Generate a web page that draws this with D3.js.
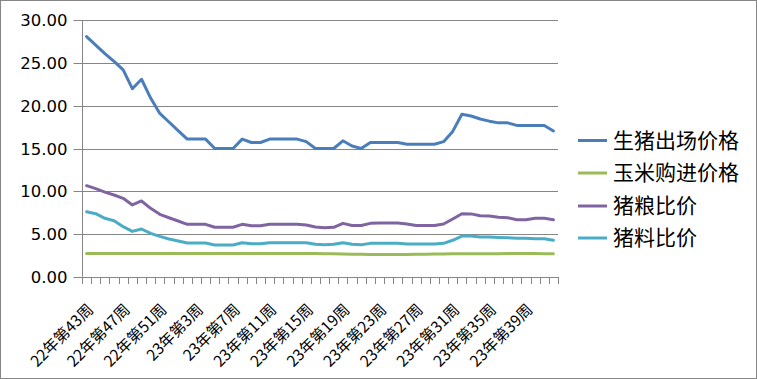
<!DOCTYPE html>
<html><head><meta charset="utf-8">
<script src="https://cdn.jsdelivr.net/npm/d3@7"></script>
<style>
html,body{margin:0;padding:0;background:#fff;}
svg{display:block;}
</style></head>
<body>
<svg id="chart" width="757" height="379"></svg>
<script>
const categories = ["22年第43周","22年第44周","22年第45周","22年第46周","22年第47周","22年第48周","22年第49周","22年第50周","22年第51周","22年第52周",
"23年第1周","23年第2周","23年第3周","23年第4周","23年第5周","23年第6周","23年第7周","23年第8周","23年第9周","23年第10周",
"23年第11周","23年第12周","23年第13周","23年第14周","23年第15周","23年第16周","23年第17周","23年第18周","23年第19周","23年第20周",
"23年第21周","23年第22周","23年第23周","23年第24周","23年第25周","23年第26周","23年第27周","23年第28周","23年第29周","23年第30周",
"23年第31周","23年第32周","23年第33周","23年第34周","23年第35周","23年第36周","23年第37周","23年第38周","23年第39周","23年第40周",
"23年第41周","23年第42周"];
const hogPrice = [28.1,27.1,26.1,25.2,24.2,22.0,23.1,20.9,19.1,18.1,17.1,16.1,16.1,16.1,15.0,15.0,15.0,16.1,15.7,15.7,
16.1,16.1,16.1,16.1,15.8,15.0,15.0,15.0,15.9,15.3,15.0,15.7,15.7,15.7,15.7,15.5,15.5,15.5,15.5,15.8,
17.0,19.0,18.8,18.45,18.2,18.0,18.0,17.7,17.7,17.7,17.7,17.05];
const cornPrice = [2.70,2.70,2.70,2.70,2.70,2.70,2.70,2.70,2.70,2.70,2.70,2.70,2.70,2.70,2.70,2.70,2.70,2.70,2.70,2.70,
2.70,2.70,2.70,2.70,2.70,2.70,2.69,2.68,2.66,2.63,2.62,2.61,2.60,2.60,2.60,2.61,2.62,2.64,2.66,2.67,
2.68,2.68,2.68,2.68,2.68,2.68,2.70,2.72,2.72,2.70,2.68,2.68];
const hogGrainRatio = [10.65,10.3,9.9,9.56,9.17,8.39,8.86,8.0,7.3,6.9,6.52,6.13,6.13,6.13,5.78,5.78,5.78,6.13,5.97,5.97,
6.13,6.13,6.13,6.13,6.05,5.82,5.74,5.78,6.24,6.0,6.0,6.24,6.28,6.28,6.28,6.16,6.0,6.0,6.0,6.16,
6.75,7.37,7.35,7.14,7.1,6.95,6.9,6.67,6.67,6.83,6.83,6.67];
const hogFeedRatio = [7.6,7.37,6.83,6.55,5.85,5.3,5.58,5.07,4.72,4.41,4.17,3.94,3.94,3.94,3.71,3.71,3.71,3.98,3.86,3.86,
3.98,3.98,3.98,3.98,3.98,3.8,3.75,3.79,3.98,3.79,3.75,3.9,3.9,3.9,3.9,3.83,3.83,3.83,3.83,3.9,
4.26,4.76,4.76,4.64,4.64,4.6,4.57,4.49,4.49,4.45,4.45,4.26];
const seriesNames = ["生猪出场价格","玉米购进价格","猪粮比价","猪料比价"];
const seriesColors = ["#4A7EBB","#9BBB59","#8064A2","#4BACC6"];
const yTicks = [0,5,10,15,20,25,30];
const labelEvery = 4;

const seriesData = [hogPrice, cornPrice, hogGrainRatio, hogFeedRatio];
const svg = d3.select("#chart");
const W = 757, H = 379;
const pL = 82, pR = 558, pT = 20.3, pB = 276.7;
const grid = "#868686";

svg.append("rect").attr("x",0.5).attr("y",0.5).attr("width",W-1).attr("height",H-1)
  .attr("fill","#fff").attr("stroke",grid).attr("stroke-width",1);

const x = d3.scaleBand().domain(categories).range([pL,pR]).padding(0);
const y = d3.scaleLinear().domain([0,30]).range([pB,pT]);

// gridlines
svg.append("g").selectAll("line").data(yTicks.filter(d=>d>0)).join("line")
  .attr("x1",pL).attr("x2",pR)
  .attr("y1",d=>Math.round(y(d))+0.5).attr("y2",d=>Math.round(y(d))+0.5)
  .attr("stroke",grid).attr("stroke-width",1);

// y axis
const yAxis = d3.axisLeft(y).tickValues(yTicks).tickFormat(d3.format(".2f")).tickSize(9).tickPadding(6);
const gy = svg.append("g").attr("transform",`translate(${pL+0.5},0)`).call(yAxis);
gy.select(".domain").attr("stroke",grid).attr("d",`M0,${pT}V${pB}`);
gy.selectAll(".tick line").attr("stroke",grid);
gy.selectAll(".tick").attr("transform",d=>`translate(0,${Math.round(y(d))+0.5})`);
gy.selectAll("text").attr("font-family","DejaVu Sans, Verdana, sans-serif").attr("font-size","16.5px").attr("fill","#000");

// x axis baseline and ticks at category boundaries
const gx = svg.append("g");
gx.append("line").attr("x1",pL).attr("x2",pR)
  .attr("y1",Math.round(pB)+0.5).attr("y2",Math.round(pB)+0.5).attr("stroke",grid);
const bounds = categories.map(c=>x(c)).concat([pR]);
gx.selectAll("line.tk").data(bounds).join("line").attr("class","tk")
  .attr("x1",d=>Math.round(d)+0.5).attr("x2",d=>Math.round(d)+0.5)
  .attr("y1",Math.round(pB)).attr("y2",Math.round(pB)+7).attr("stroke",grid);

// x labels
gx.selectAll("text").data(categories.filter((c,i)=>i%labelEvery===0)).join("text")
  .attr("transform",d=>`translate(${x(d)+x.bandwidth()/2+4},${pB+30}) rotate(-45)`)
  .attr("text-anchor","end").attr("dy","0.35em")
  .attr("font-family","'Noto Sans CJK SC', sans-serif").attr("font-size","15.5px").attr("fill","#000")
  .text(d=>d);

// lines
const line = d3.line().x((d,i)=>x(categories[i])+x.bandwidth()/2).y(d=>y(d));
svg.append("g").selectAll("path").data(seriesData).join("path")
  .attr("d",d=>line(d)).attr("fill","none")
  .attr("stroke",(d,i)=>seriesColors[i]).attr("stroke-width",3)
  .attr("stroke-linejoin","round").attr("stroke-linecap","round");

// legend
const legendY = [140.5,173,206,238];
const lg = svg.append("g").selectAll("g").data(seriesNames).join("g")
  .attr("transform",(d,i)=>`translate(578,${legendY[i]})`);
lg.append("line").attr("x1",0).attr("x2",29).attr("y1",0).attr("y2",0)
  .attr("stroke",(d,i)=>seriesColors[i]).attr("stroke-width",3);
lg.append("text").attr("x",35).attr("dy","0.35em")
  .attr("font-family","'Noto Sans CJK SC', sans-serif").attr("font-size","21px").attr("fill","#000")
  .text(d=>d);
</script>
</body></html>
